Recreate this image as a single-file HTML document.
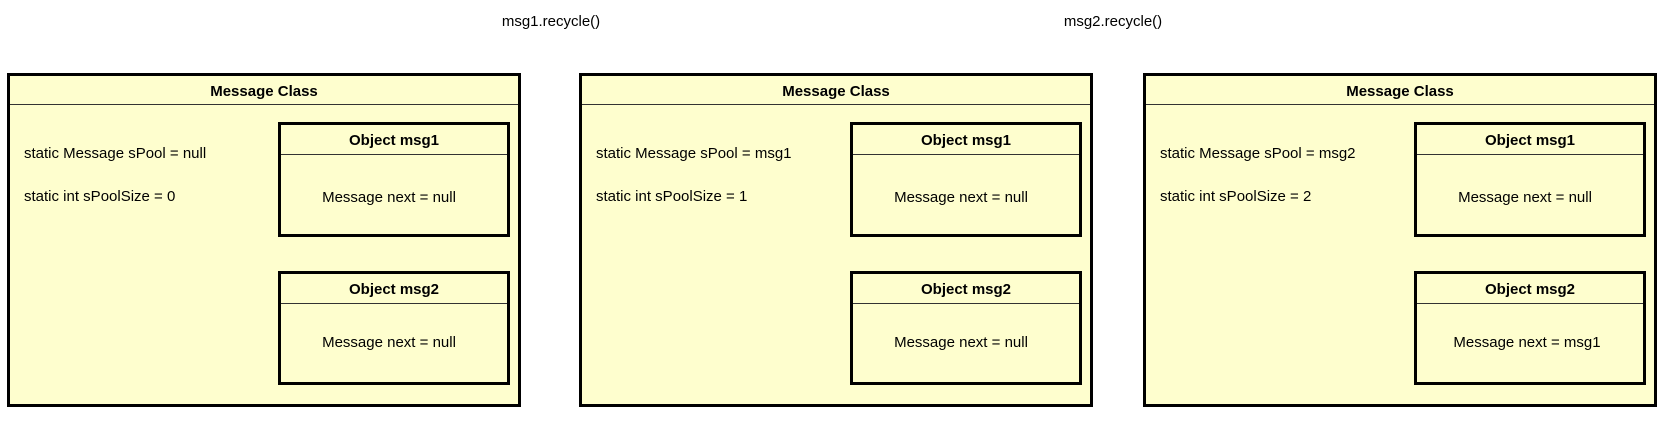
<!DOCTYPE html>
<html><head><meta charset="utf-8"><style>
body{margin:0;width:1673px;height:433px;background:#fff;position:relative;overflow:hidden;font-family:"Liberation Sans",Arial,sans-serif;font-size:15px;color:#000}
.t{position:absolute;white-space:nowrap;line-height:18px}
.c{transform:translateX(-50%)}
.box{position:absolute;background:#FEFECE;border:3px solid #000;box-sizing:border-box}
.hl{position:absolute;left:0;right:0;height:1px;background:#333}
.b{font-weight:bold}
</style></head><body>
<div class="t c" style="left:551px;top:13px">msg1.recycle()</div>
<div class="t c" style="left:1113px;top:13px">msg2.recycle()</div>

<!-- panel 1 -->
<div class="box" style="left:7px;top:73px;width:514px;height:334px">
  <div class="hl" style="top:28px"></div>
  <div class="t c b" style="left:254px;top:7px">Message Class</div>
  <div class="t" style="left:14px;top:69px">static Message sPool = null</div>
  <div class="t" style="left:14px;top:112px">static int sPoolSize = 0</div>
  <div class="box" style="left:268px;top:46px;width:232px;height:115px">
    <div class="hl" style="top:29px"></div>
    <div class="t c b" style="left:113px;top:7px">Object msg1</div>
    <div class="t c" style="left:108px;top:64px">Message next = null</div>
  </div>
  <div class="box" style="left:268px;top:195px;width:232px;height:114px">
    <div class="hl" style="top:29px"></div>
    <div class="t c b" style="left:113px;top:7px">Object msg2</div>
    <div class="t c" style="left:108px;top:60px">Message next = null</div>
  </div>
</div>

<!-- panel 2 -->
<div class="box" style="left:579px;top:73px;width:514px;height:334px">
  <div class="hl" style="top:28px"></div>
  <div class="t c b" style="left:254px;top:7px">Message Class</div>
  <div class="t" style="left:14px;top:69px">static Message sPool = msg1</div>
  <div class="t" style="left:14px;top:112px">static int sPoolSize = 1</div>
  <div class="box" style="left:268px;top:46px;width:232px;height:115px">
    <div class="hl" style="top:29px"></div>
    <div class="t c b" style="left:113px;top:7px">Object msg1</div>
    <div class="t c" style="left:108px;top:64px">Message next = null</div>
  </div>
  <div class="box" style="left:268px;top:195px;width:232px;height:114px">
    <div class="hl" style="top:29px"></div>
    <div class="t c b" style="left:113px;top:7px">Object msg2</div>
    <div class="t c" style="left:108px;top:60px">Message next = null</div>
  </div>
</div>

<!-- panel 3 -->
<div class="box" style="left:1143px;top:73px;width:514px;height:334px">
  <div class="hl" style="top:28px"></div>
  <div class="t c b" style="left:254px;top:7px">Message Class</div>
  <div class="t" style="left:14px;top:69px">static Message sPool = msg2</div>
  <div class="t" style="left:14px;top:112px">static int sPoolSize = 2</div>
  <div class="box" style="left:268px;top:46px;width:232px;height:115px">
    <div class="hl" style="top:29px"></div>
    <div class="t c b" style="left:113px;top:7px">Object msg1</div>
    <div class="t c" style="left:108px;top:64px">Message next = null</div>
  </div>
  <div class="box" style="left:268px;top:195px;width:232px;height:114px">
    <div class="hl" style="top:29px"></div>
    <div class="t c b" style="left:113px;top:7px">Object msg2</div>
    <div class="t c" style="left:110px;top:60px">Message next = msg1</div>
  </div>
</div>
</body></html>
